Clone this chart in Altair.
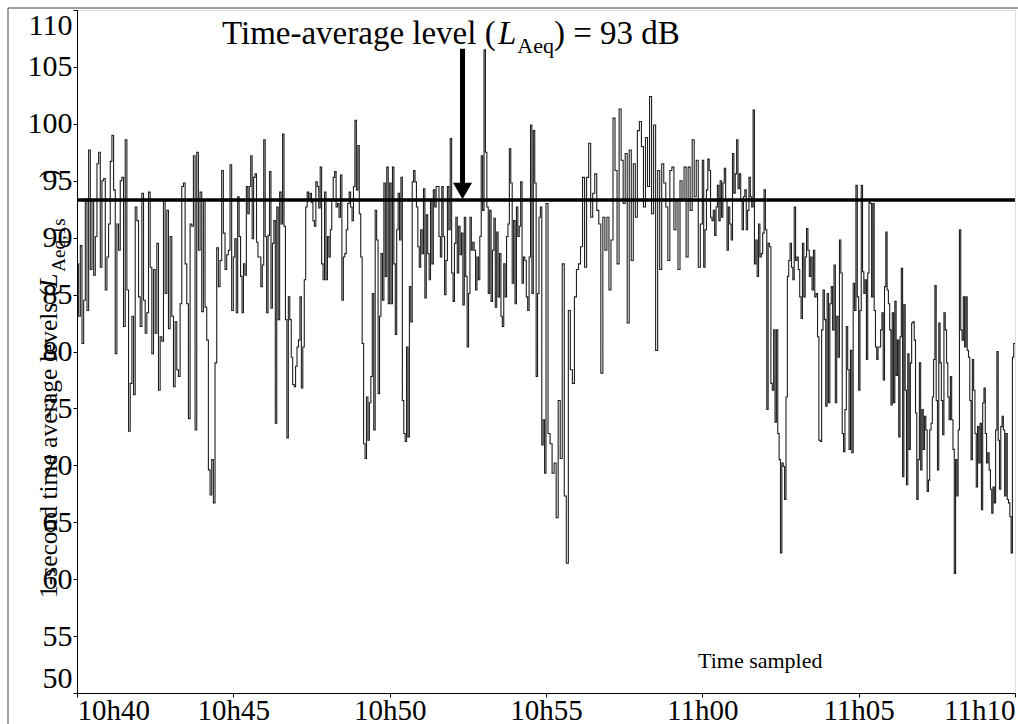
import altair as alt
import pandas as pd

# ---------------- data ----------------
# 1-second levels, dB(A); one list per 5-minute block, in time order
seg1 = [87.7, 83.1, 89.3, 80.7, 84.5, 93.4, 83.6, 97.7, 87.2, 93.3, 86.7, 90.1, 96.5, 97.5, 87.4, 95.0,
        95.2, 85.4, 88.3, 91.2, 96.7, 99.0, 94.2, 79.8, 91.2, 88.9, 95.0, 95.3, 82.2, 98.6, 85.4, 73.0,
        77.2, 83.1, 76.2, 92.7, 91.5, 84.8, 82.2, 93.9, 84.5, 81.6, 83.4, 94.0, 87.4, 79.8, 87.2, 81.6,
        89.5, 76.6, 81.3, 80.9, 93.3, 85.1, 92.4, 82.0, 90.1, 83.1, 76.9, 82.6, 78.4, 77.8, 84.2, 94.5,
        94.8, 87.7, 84.2, 74.1, 91.2, 91.0, 97.2, 73.1, 97.5, 88.9, 94.0, 83.5, 93.3, 83.9, 81.0, 69.6,
        67.4, 70.5, 66.7, 79.0, 89.1, 85.7, 88.0, 95.9, 90.4, 87.2, 88.5, 88.9, 96.4, 83.6]
seg2 = [88.3, 89.9, 83.4, 93.6, 90.1, 86.6, 83.4, 87.7, 86.7, 94.5, 92.1, 94.5, 97.2, 89.9, 95.3, 95.6,
        89.6, 88.3, 88.3, 85.7, 87.6, 98.6, 90.1, 83.4, 90.2, 95.8, 83.8, 89.5, 91.5, 73.7, 92.7, 82.8,
        94.0, 91.2, 99.1, 91.0, 82.8, 72.4, 84.8, 82.8, 79.5, 77.1, 76.9, 78.7, 80.4, 81.0, 84.8, 76.8,
        80.4, 86.3, 92.7, 94.0, 93.3, 93.9, 93.1, 91.5, 91.0, 94.9, 94.5, 92.6, 96.2, 87.7, 86.3, 94.0,
        86.3, 90.1, 88.3, 90.7, 93.4, 95.3, 95.8, 92.7, 93.0, 91.8, 95.5, 84.5, 88.3, 88.6, 90.7, 93.0,
        94.0, 92.7, 91.5, 94.5, 100.3, 94.2, 98.1, 92.1, 88.3, 80.7, 71.9, 70.6, 76.0, 72.2, 75.5, 77.8,
        85.1, 73.1, 92.4, 89.8, 76.3, 83.1, 88.6, 84.5, 94.8, 86.6, 96.2, 84.2]
seg3 = [94.8, 84.2, 96.2, 87.7, 81.5, 90.7, 93.9, 89.8, 95.3, 75.7, 72.8, 72.1, 80.4, 72.5, 85.7, 82.6,
        94.9, 95.9, 94.9, 92.7, 89.2, 87.4, 90.7, 88.6, 94.3, 84.7, 92.0, 88.6, 86.3, 93.3, 87.7, 94.2,
        92.7, 94.5, 94.5, 90.1, 88.3, 94.5, 90.1, 85.0, 88.0, 94.5, 90.7, 98.7, 86.9, 84.4, 89.5, 91.8,
        86.9, 91.0, 88.5, 90.4, 84.1, 91.8, 86.6, 80.4, 85.1, 91.8, 88.9, 89.6, 88.9, 85.4, 88.3, 86.3,
        90.1, 97.2, 92.4, 106.5, 97.5, 92.7, 85.1, 92.4, 84.4, 88.9, 91.7, 83.9, 90.5, 84.8, 88.6, 83.1,
        82.2, 87.7, 84.8, 90.1, 91.2, 97.8, 94.8, 86.0, 91.5, 84.2, 92.7, 90.1, 91.0, 94.9, 86.0, 88.3,
        88.0, 84.8, 83.6, 88.3, 99.9, 85.1, 99.4, 94.8, 77.8, 85.1, 91.8, 92.7, 71.8, 74.0, 69.3]
seg4 = [93.0, 72.8, 71.9, 69.3, 70.2, 65.4, 75.7, 70.6, 87.7, 67.3, 61.4, 83.6, 78.4, 77.2, 84.8, 87.2,
        87.7, 89.2, 95.3, 87.4, 95.3, 98.3, 91.8, 93.9, 95.6, 92.4, 91.2, 78.1, 91.8, 88.9, 91.8, 85.4,
        89.8, 100.5, 95.9, 87.7, 101.3, 96.8, 93.0, 97.4, 82.5, 97.7, 88.0, 96.5, 91.8, 99.4, 100.2, 98.0,
        92.7, 98.8, 94.5, 102.4, 92.1, 99.9, 80.1, 95.9, 87.2, 96.5, 94.8, 92.7, 88.0, 95.9, 96.2, 90.7,
        93.3, 87.2, 95.0, 93.3, 96.2, 88.3, 96.2, 92.4, 98.6, 93.6, 96.8, 87.4, 91.2]
seg5 = [96.8, 87.4, 90.7, 94.2, 96.9, 95.9, 91.8, 91.5, 92.4, 90.2, 92.7, 94.6, 91.5, 95.0, 91.8, 94.8,
        96.1, 93.3, 88.9, 92.7, 91.2, 89.8, 97.4, 93.9, 95.6, 98.6, 94.3, 95.6, 93.3, 90.7, 93.6, 94.2,
        90.7, 92.4, 95.3, 93.6, 92.7, 101.2, 87.7, 89.8, 86.6, 91.2, 88.3, 88.6, 90.4, 94.2, 90.7, 74.9,
        89.5, 89.2, 77.2, 76.6, 81.9, 73.8, 81.9, 72.8, 70.5, 62.3, 70.2, 69.9, 67.0, 76.0, 86.6, 88.0,
        89.5, 87.4, 86.3, 92.7, 88.0, 88.3, 87.2, 84.8, 82.9, 89.5, 84.8, 88.3, 90.8, 88.9, 86.6, 88.3,
        85.4, 88.9, 84.8, 85.1, 81.3, 72.2, 72.1, 81.9, 85.4, 82.8, 75.2, 85.1, 75.5, 84.2, 85.7, 81.9,
        87.6, 75.5, 83.1, 79.5, 89.8, 86.9, 72.8, 71.2, 74.9, 82.2, 78.4, 71.4, 80.1, 71.1, 86.0, 83.6,
        94.6, 84.8]
seg6 = [76.6, 83.6, 94.6, 87.0, 85.1, 86.3, 79.3, 86.9, 93.1, 93.0, 84.8, 93.0, 83.6, 80.4, 79.3, 80.4,
        80.4, 81.9, 83.4, 77.5, 85.7, 90.5, 85.4, 84.2, 81.9, 75.3, 83.4, 75.5, 84.4, 77.9, 81.0, 72.5,
        81.3, 87.3, 69.0, 84.1, 76.6, 68.3, 79.8, 71.4, 79.0, 82.5, 82.6, 81.0, 74.6, 67.0, 70.5, 79.0,
        69.6, 74.9, 71.4, 74.3, 73.1, 67.7, 68.7, 73.1, 73.7, 76.0, 79.3, 85.8, 75.7, 69.6, 82.5, 79.0,
        75.7, 72.7, 83.4, 81.9, 79.0, 76.0, 74.0, 77.8, 74.0, 71.4, 60.5, 70.5, 67.3, 73.1, 90.7, 81.9,
        81.0, 84.8, 80.4, 84.8, 80.1, 79.5, 75.7, 70.5, 79.3, 76.6, 72.8, 68.1, 73.4, 70.2, 73.7, 66.1,
        75.5, 76.8, 72.8, 70.2, 71.1, 69.6, 67.9, 65.8, 68.1, 66.7, 73.1, 80.0, 72.2, 67.9, 73.4, 74.3,
        73.1, 67.3, 72.8, 67.0, 66.7, 65.5, 62.3, 79.5, 80.7]
segments = [seg1, seg2, seg3, seg4, seg5, seg6]
block_seconds = 300

leq = 93.3                     # drawn level of the L_Aeq line
arrow_time = 739.8             # s after 10h40
arrow_top, arrow_bottom, arrow_head = 106.6, 94.8, 94.1
x_ticks = [0, 300, 600, 900, 1200, 1500, 1800]
x_tick_labels = ["10h40", "10h45", "10h50", "10h55", "11h00", "11h05", "11h10"]
y_ticks = [50, 55, 60, 65, 70, 75, 80, 85, 90, 95, 100, 105, 110]
time_label_pos = (1191.7, 52.2)

# ---------------- build table ----------------
rows = []
for k, seg in enumerate(segments):
    n = len(seg)
    for i, v in enumerate(seg):
        rows.append({"t": k * block_seconds + i * block_seconds / n, "L": v})
rows.append({"t": 1800, "L": segments[-1][-1]})
df = pd.DataFrame(rows)

FONT = "'Liberation Serif', 'Times New Roman', Times, serif"
W = {' ': 250, '(': 333, ')': 333, '-': 333, '=': 564, ',': 250, 'A': 722, 'B': 667, 'L': 611,
     'T': 611, 'a': 444, 'c': 444, 'd': 500, 'e': 444, 'g': 500, 'h': 500, 'i': 278, 'l': 278,
     'm': 778, 'n': 500, 'o': 500, 'p': 500, 'q': 500, 'r': 333, 's': 389, 't': 278, 'v': 500}


def tw(s, size, italic=False):
    if italic and s == "L":
        return 0.556 * size
    return sum(W.get(c, 500) for c in s) * size / 1000.0


def text_layer(txt, x, y, size, italic=False, angle=0, align="left"):
    kw = dict(align=align, baseline="alphabetic", font=FONT, fontSize=size, color="black")
    if italic:
        kw["fontStyle"] = "italic"
    if angle:
        kw["angle"] = angle
    return alt.Chart(pd.DataFrame({"label": [txt]})).mark_text(**kw).encode(
        text="label:N", x=alt.value(x), y=alt.value(y))


label_expr = "[" + ",".join("'%s'" % s for s in x_tick_labels) + "][round(datum.value/300)]"

xscale = alt.Scale(domain=[0, 1800], nice=False, zero=False)
yscale = alt.Scale(domain=[50, 110], nice=False, zero=False)

line = alt.Chart(df).mark_line(interpolate="step-after", color="#1e1e1e", strokeWidth=1.1, clip=True).encode(
    x=alt.X("t:Q", scale=xscale, title=None,
            axis=alt.Axis(values=x_ticks, labelExpr=label_expr, grid=False, tickSize=4, labelPadding=-1,
                          labelFlush=True, labelFont=FONT, labelFontSize=29, labelColor="black",
                          domainColor="black", tickColor="black")),
    y=alt.Y("L:Q", scale=yscale, title=None,
            axis=alt.Axis(values=y_ticks, grid=False, tickSize=4, labelPadding=1, labelFlush=True,
                          labelFont=FONT, labelFontSize=30, labelColor="black",
                          domainColor="black", tickColor="black")),
)

rule = alt.Chart(pd.DataFrame({"v": [leq]})).mark_rule(color="black", strokeWidth=3.5).encode(y="v:Q")

shaft = alt.Chart(pd.DataFrame({"t": [arrow_time], "a": [arrow_top], "b": [arrow_bottom]})).mark_rule(
    color="black", strokeWidth=5).encode(x="t:Q", y="a:Q", y2="b:Q")
head = alt.Chart(pd.DataFrame({"t": [arrow_time], "h": [arrow_head]})).mark_point(
    shape="triangle-down", filled=True, size=360, color="black", opacity=1).encode(x="t:Q", y="h:Q")

tsampled = alt.Chart(pd.DataFrame({"t": [time_label_pos[0]], "v": [time_label_pos[1]], "label": ["Time sampled"]})
                     ).mark_text(align="left", baseline="alphabetic", font=FONT, fontSize=22, color="black"
                                 ).encode(x="t:Q", y="v:Q", text="label:N")

# top annotation: Time-average level (L_Aeq) = 93 dB   (x relative to plot left edge)
F, FS = 33, 22
ax0, ay = 145, 34
p1 = "Time-average level ("
ann = [text_layer(p1, ax0, ay, F)]
xx = ax0 + tw(p1, F) + 1
ann.append(text_layer("L", xx, ay, F, italic=True))
xx += tw("L", F, True) + 1
ann.append(text_layer("Aeq", xx, ay + 9, FS))
xx += tw("Aeq", FS)
ann.append(text_layer(") = 93 dB", xx, ay, F))

# y title, rotated: 1-second time average levels (L_Aeq,1s)
T, TS = 25.5, 19
bx, by = -20, 588
q1 = "1-second time average levels ("
ttl = [text_layer(q1, bx, by, T, angle=270)]
yy = by - tw(q1, T)
ttl.append(text_layer("L", bx, yy, T, italic=True, angle=270))
yy -= tw("L", T, True) + 2
ttl.append(text_layer("Aeq,1s", bx + 8, yy, TS, angle=270))
ttl.append(text_layer(")", bx, 168, T, angle=270))

frame = alt.Chart(pd.DataFrame({"k": [0]})).mark_rect(filled=False, stroke="#444444", strokeWidth=1).encode(
    x=alt.value(-69), y=alt.value(-2), x2=alt.value(1000), y2=alt.value(760))

chart = alt.layer(frame, line, rule, shaft, head, tsampled, *ann, *ttl).properties(
    width=938, height=683,
    autosize=alt.AutoSizeParams(type="none"),
    padding={"left": 77, "top": 10, "right": 3, "bottom": 31},
).configure_view(stroke="black", strokeWidth=1).configure(background="white")

chart.save("out.html", embed_options={"renderer": "svg", "actions": False})
